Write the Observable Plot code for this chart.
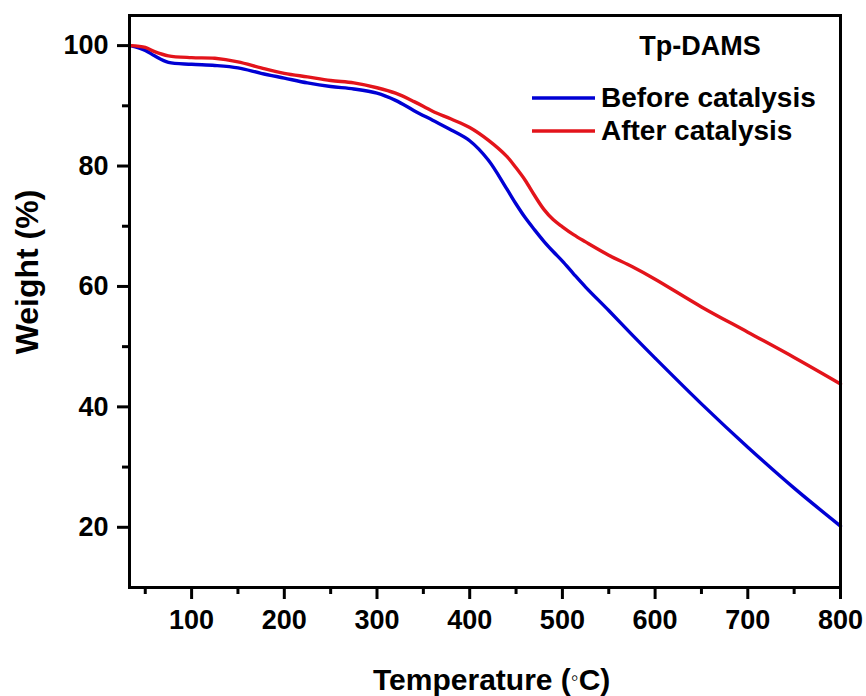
<!DOCTYPE html>
<html>
<head>
<meta charset="utf-8">
<script src="https://cdn.jsdelivr.net/npm/d3@7"></script>
<script src="https://cdn.jsdelivr.net/npm/@observablehq/plot@0.6"></script>
<style>
  body { margin: 0; background: #fff; }
  #chart { width: 866px; height: 696px; }
</style>
</head>
<body>
<div id="chart"></div>
<script>
// TGA curves of Tp-DAMS: residual weight (%) versus temperature (°C)
const temperature = [34, 50, 60, 75, 100, 125, 150, 175, 200, 225, 250, 275, 300, 320, 340, 360, 380, 400, 420, 440, 450, 460, 470, 480, 490, 500, 512, 525, 550, 575, 600, 650, 700, 750, 800];
const beforeCatalysis = [100, 99.2, 98.3, 97.2, 96.9, 96.7, 96.3, 95.4, 94.6, 93.8, 93.2, 92.8, 92.1, 90.9, 89.2, 87.6, 86.0, 84.2, 81.0, 76.2, 73.7, 71.4, 69.4, 67.5, 65.8, 64.2, 62.1, 59.9, 56.0, 52.0, 48.1, 40.5, 33.3, 26.5, 20.2];
const afterCatalysis = [100, 99.7, 99.0, 98.3, 98.0, 97.9, 97.3, 96.3, 95.4, 94.8, 94.2, 93.8, 93.0, 92.1, 90.7, 89.1, 87.8, 86.4, 84.3, 81.6, 79.7, 77.6, 75.1, 72.8, 71.1, 69.9, 68.6, 67.4, 65.2, 63.3, 61.2, 56.6, 52.4, 48.2, 43.8];

const seriesNames = ["Before catalysis", "After catalysis"];
const seriesColors = ["#0000d4", "#e3141b"];
const legendTitle = "Tp-DAMS";
const xTitle = "Temperature (";
const xTitleUnit = "\u25E6";
const xTitleEnd = "C)";
const yTitle = "Weight (%)";

const xTicks = [100, 200, 300, 400, 500, 600, 700, 800];
const xMinorTicks = [50, 150, 250, 350, 450, 550, 650, 750];
const yTicks = [20, 40, 60, 80, 100];
const yMinorTicks = [30, 50, 70, 90];

const rows = [];
temperature.forEach((t, i) => {
  rows.push({t, w: beforeCatalysis[i], series: seriesNames[0]});
  rows.push({t, w: afterCatalysis[i], series: seriesNames[1]});
});

const W = 866, H = 696;
const mL = 129, mR = 26, mT = 15, mB = 109;
const font = "'Liberation Sans', Arial, Helvetica, sans-serif";

const plot = Plot.plot({
  width: W,
  height: H,
  marginLeft: mL,
  marginRight: mR,
  marginTop: mT,
  marginBottom: mB,
  style: {fontFamily: font, fontWeight: "bold", background: "#fff", color: "#000", overflow: "visible"},
  x: {domain: [33, 800], label: null},
  y: {domain: [10, 105], label: null},
  color: {domain: seriesNames, range: seriesColors},
  marks: [
    Plot.line(rows, {x: "t", y: "w", z: "series", stroke: "series", strokeWidth: 3.4, curve: "catmull-rom"}),
    Plot.axisX(xTicks, {tickSize: 12, tickPadding: 10, strokeWidth: 3, fontSize: 27, label: null}),
    Plot.axisX(xMinorTicks, {tickSize: 7, strokeWidth: 3, tickFormat: () => "", label: null}),
    Plot.axisY(yTicks, {tickSize: 12, tickPadding: 9, strokeWidth: 3, fontSize: 27, label: null}),
    Plot.axisY(yMinorTicks, {tickSize: 7, strokeWidth: 3, tickFormat: () => "", label: null}),
    Plot.frame({stroke: "#000", strokeWidth: 3})
  ]
});

document.getElementById("chart").appendChild(plot);

// Titles and in-plot legend
const svg = d3.select(plot);
const g = svg.append("g")
  .attr("font-family", font)
  .attr("font-weight", "bold")
  .attr("fill", "#000")
  .attr("text-anchor", "start");

const xt = g.append("text").attr("x", 373).attr("y", 690).attr("font-size", 30);
xt.append("tspan").text(xTitle);
xt.append("tspan").attr("font-weight", "normal").attr("font-size", 22).attr("dy", -5).text(xTitleUnit);
xt.append("tspan").attr("dy", 5).text(xTitleEnd);

g.append("text")
  .attr("transform", "translate(38,272) rotate(-90)")
  .attr("text-anchor", "middle")
  .attr("font-size", 32)
  .text(yTitle);

g.append("text").attr("x", 700).attr("y", 55).attr("text-anchor", "middle").attr("font-size", 27).text(legendTitle);

const legendY = [98, 131];
seriesNames.forEach((name, i) => {
  g.append("line")
    .attr("x1", 532).attr("x2", 595)
    .attr("y1", legendY[i]).attr("y2", legendY[i])
    .attr("stroke", seriesColors[i]).attr("stroke-width", 3.5);
  g.append("text").attr("x", 601).attr("y", legendY[i] + 9).attr("font-size", 28).text(name);
});
</script>
</body>
</html>
